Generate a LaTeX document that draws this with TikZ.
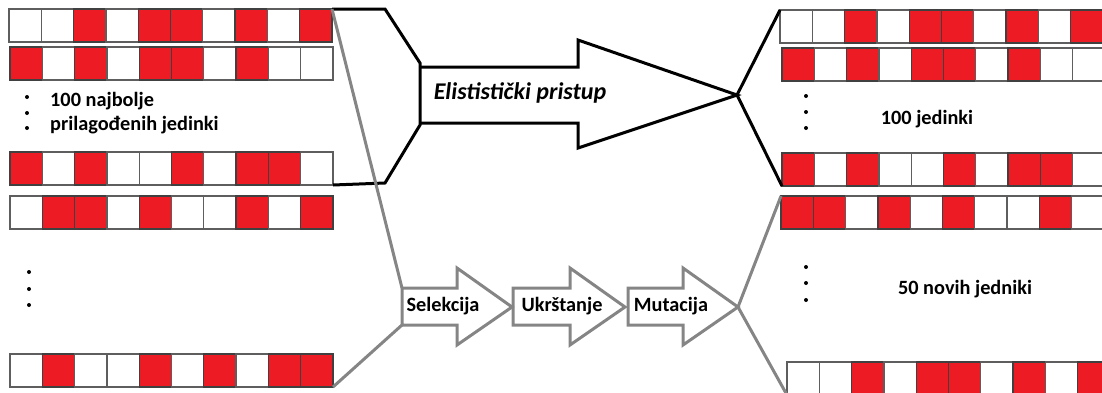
\documentclass[tikz,border=0pt]{standalone}
\usepackage{fontspec}
\setmainfont{Carlito}
\definecolor{cellred}{HTML}{ED1C24}
\definecolor{cellgray}{HTML}{5E5E5E}
\definecolor{linkgray}{HTML}{858585}
\tikzset{
  whitecell/.style={fill=white, draw=cellgray, line width=1.3pt},
  redcell/.style={fill=cellred, draw=black!75, line width=1.3pt},
  lab/.style={font=\bfseries\fontsize{20.3}{24}\selectfont, inner sep=0pt},
  biglab/.style={font=\bfseries\itshape\fontsize{24}{28}\selectfont, inner sep=0pt},
  blackline/.style={draw=black, line width=3pt, line join=miter},
  grayline/.style={draw=linkgray, line width=3pt, line join=miter},
  dot/.style={fill=black}
}
% one chromosome: name, left x, top y, list of genes (1 = red)
\newcommand{\genrow}[4]{%
  \foreach \g [count=\i from 0] in {#4} {
    \ifnum\g=1
      \path[redcell] (#2+\i*32.3,#3) rectangle ++(32.3,33);
    \else
      \path[whitecell] (#2+\i*32.3,#3) rectangle ++(32.3,33);
    \fi
  }
  \coordinate (#1-nw) at (#2,#3);
  \coordinate (#1-sw) at (#2,#3+33);
  \coordinate (#1-ne) at (#2+323,#3);
  \coordinate (#1-se) at (#2+323,#3+33);
}
\begin{document}
\begin{tikzpicture}[x=1pt,y=-1pt]
\useasboundingbox (0,0) rectangle (1102,392);
\clip (0,0) rectangle (1102,392);

% parent population
\genrow{L1}{9}{9}{0,0,1,0,1,1,0,1,0,1}
\genrow{L2}{10}{47}{1,0,1,0,1,1,0,1,0,0}
\genrow{L3}{10}{152}{1,0,1,0,0,1,0,1,1,0}
\genrow{L4}{10}{196}{0,1,1,0,1,0,0,1,0,1}
\genrow{L5}{10}{354}{0,1,0,0,1,0,1,0,1,1}

% next population
\genrow{R1}{780}{10}{0,0,1,0,1,1,0,1,0,1}
\genrow{R2}{782}{48}{1,0,1,0,1,1,0,1,0,0}
\genrow{R3}{782}{153}{1,0,1,0,0,1,0,1,1,0}
\genrow{R4}{781}{196}{1,1,0,1,0,1,0,0,1,0}
\genrow{R5}{787}{362}{0,0,1,0,1,1,0,1,0,1}

% ellipsis dots
\foreach \yy in {97,113,128} \fill[dot] (27,\yy) circle (2pt);
\foreach \yy in {272,289,305} \fill[dot] (29,\yy) circle (2pt);
\foreach \yy in {96,112,128} \fill[dot] (806,\yy) circle (2pt);
\foreach \yy in {267,283,300} \fill[dot] (806,\yy) circle (2pt);

% labels of the populations
\node[lab, anchor=west] (bestA) at (50,101) {100 najbolje};
\node[lab, anchor=west] (bestB) at (50,125) {prilagođenih jedinki};
\node[lab] (keep) at (927,119) {100 jedinki};
\node[lab] (new) at (965,289) {50 novih jedniki};

% elitism: bracket and big arrow
\coordinate (bk1) at (385,9);
\coordinate (bk2) at (420,63);
\coordinate (bk3) at (420,125);
\coordinate (bk4) at (385,183);
\coordinate (eTip) at (737,95);
\draw[blackline] (L1-ne) -- (bk1) -- (bk2) -- (bk3) -- (bk4) -- (L3-se);
\draw[blackline] (420,67) -- (578,67) -- (578,40) -- (eTip) -- (578,148) -- (578,123) -- (420,123);
\draw[blackline] (eTip) -- (R1-nw);
\draw[blackline] (eTip) -- (R3-sw);
\node[biglab] (elit) at (520,93) {Elististički pristup};

% genetic operators
\coordinate (a1nw) at (402,288);
\coordinate (a1sw) at (402,325);
\coordinate (a3tip) at (738,307);
\draw[grayline] (a1nw) -- (457,288) -- (457,268) -- (512,307) -- (457,345) -- (457,325) -- (a1sw) -- cycle;
\draw[grayline] (513,288) -- (570,288) -- (570,268) -- (625,307) -- (570,345) -- (570,325) -- (513,325) -- cycle;
\draw[grayline] (628,288) -- (683,288) -- (683,268) -- (a3tip) -- (683,345) -- (683,325) -- (628,325) -- cycle;
\node[lab] (sel) at (443,306) {Selekcija};
\node[lab] (ukr) at (562,306) {Ukrštanje};
\node[lab] (mut) at (671,306) {Mutacija};

% links into and out of the operators
\draw[grayline] (L1-ne) -- (a1nw);
\draw[grayline] (L5-se) -- (a1sw);
\draw[grayline] (a3tip) -- (R4-nw);
\draw[grayline] (a3tip) -- (R5-sw);
\end{tikzpicture}
\end{document}
